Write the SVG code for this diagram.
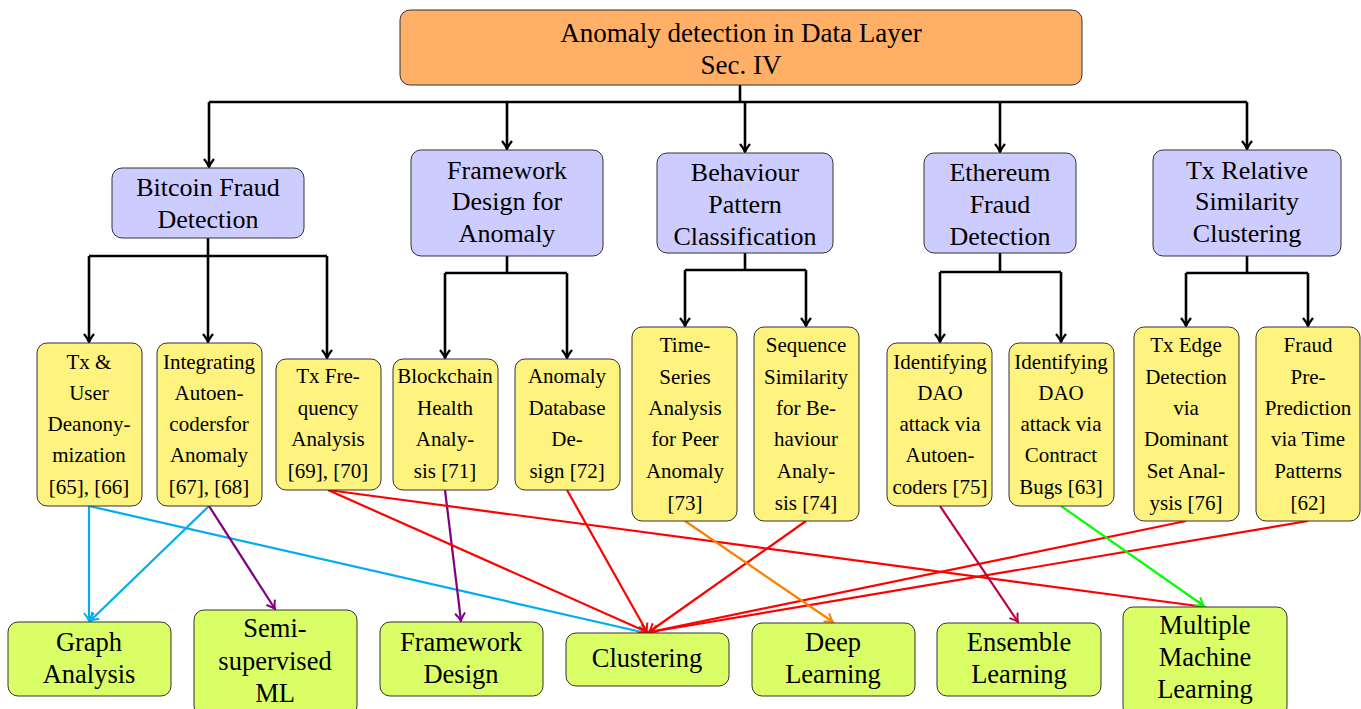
<svg xmlns="http://www.w3.org/2000/svg" width="1361" height="709" viewBox="0 0 1361 709">
<style>
text{font-family:"Liberation Serif","Times New Roman",serif;fill:#000;text-anchor:middle}
.top rect{fill:#FFB066;stroke:#333;stroke-width:1}
.l2 rect{fill:#CCCCFF;stroke:#333;stroke-width:1}
.l3 rect{fill:#FFF380;stroke:#333;stroke-width:1}
.l4 rect{fill:#DAFF66;stroke:#333;stroke-width:1}
.top text{font-size:27px}
.l2 text{font-size:26px}
.l3 text{font-size:21px}
.l4 text{font-size:26.5px}
.k{fill:none;stroke:#000;stroke-width:2.6}
.c{fill:none;stroke-width:2.2}
</style>
<defs>
<marker id="ak" markerUnits="userSpaceOnUse" markerWidth="20" markerHeight="20" viewBox="-10 -10 20 20" refX="0" refY="0" orient="auto"><path d="M-8,-5 Q-3,-1 0,0 Q-3,1 -8,5" fill="none" stroke="#000" stroke-width="2.2"/></marker>
<marker id="ac" markerUnits="userSpaceOnUse" markerWidth="20" markerHeight="20" viewBox="-10 -10 20 20" refX="0" refY="0" orient="auto"><path d="M-8,-5 Q-3,-1 0,0 Q-3,1 -8,5" fill="none" stroke="#00AEEF" stroke-width="2"/></marker>
<marker id="ap" markerUnits="userSpaceOnUse" markerWidth="20" markerHeight="20" viewBox="-10 -10 20 20" refX="0" refY="0" orient="auto"><path d="M-8,-5 Q-3,-1 0,0 Q-3,1 -8,5" fill="none" stroke="#800080" stroke-width="2"/></marker>
<marker id="ar" markerUnits="userSpaceOnUse" markerWidth="20" markerHeight="20" viewBox="-10 -10 20 20" refX="0" refY="0" orient="auto"><path d="M-8,-5 Q-3,-1 0,0 Q-3,1 -8,5" fill="none" stroke="#FF0000" stroke-width="2"/></marker>
<marker id="ao" markerUnits="userSpaceOnUse" markerWidth="20" markerHeight="20" viewBox="-10 -10 20 20" refX="0" refY="0" orient="auto"><path d="M-8,-5 Q-3,-1 0,0 Q-3,1 -8,5" fill="none" stroke="#FF8000" stroke-width="2"/></marker>
<marker id="am" markerUnits="userSpaceOnUse" markerWidth="20" markerHeight="20" viewBox="-10 -10 20 20" refX="0" refY="0" orient="auto"><path d="M-8,-5 Q-3,-1 0,0 Q-3,1 -8,5" fill="none" stroke="#BF0040" stroke-width="2"/></marker>
<marker id="ag" markerUnits="userSpaceOnUse" markerWidth="20" markerHeight="20" viewBox="-10 -10 20 20" refX="0" refY="0" orient="auto"><path d="M-8,-5 Q-3,-1 0,0 Q-3,1 -8,5" fill="none" stroke="#00FF00" stroke-width="2"/></marker>
</defs>
<rect width="1361" height="709" fill="#fff"/>

<g id="connectors">
<path class="k" d="M740,85 V102 M209,102 H1247"/>
<path class="k" d="M209,102 V167" marker-end="url(#ak)"/>
<path class="k" d="M507,102 V149" marker-end="url(#ak)"/>
<path class="k" d="M745,102 V152" marker-end="url(#ak)"/>
<path class="k" d="M1000,102 V152" marker-end="url(#ak)"/>
<path class="k" d="M1247,102 V149" marker-end="url(#ak)"/>

<path class="k" d="M208,238 V256 M89,256 H327"/>
<path class="k" d="M89,256 V342" marker-end="url(#ak)"/>
<path class="k" d="M208,256 V342" marker-end="url(#ak)"/>
<path class="k" d="M327,256 V358" marker-end="url(#ak)"/>

<path class="k" d="M507,256 V273 M445,273 H567"/>
<path class="k" d="M445,273 V358" marker-end="url(#ak)"/>
<path class="k" d="M567,273 V358" marker-end="url(#ak)"/>

<path class="k" d="M745,253 V270 M685,270 H806"/>
<path class="k" d="M685,270 V326" marker-end="url(#ak)"/>
<path class="k" d="M806,270 V326" marker-end="url(#ak)"/>

<path class="k" d="M1000,253 V272 M940,272 H1061"/>
<path class="k" d="M940,272 V342" marker-end="url(#ak)"/>
<path class="k" d="M1061,272 V342" marker-end="url(#ak)"/>

<path class="k" d="M1247,256 V273 M1186,273 H1308"/>
<path class="k" d="M1186,273 V326" marker-end="url(#ak)"/>
<path class="k" d="M1308,273 V326" marker-end="url(#ak)"/>

<path class="c" stroke="#00AEEF" d="M89,506 V621" marker-end="url(#ac)"/>
<path class="c" stroke="#00AEEF" d="M89,506 L646,633" marker-end="url(#ac)"/>
<path class="c" stroke="#00AEEF" d="M209,506 L90,621" marker-end="url(#ac)"/>
<path class="c" stroke="#800080" d="M209,506 L275,609" marker-end="url(#ap)"/>
<path class="c" stroke="#800080" d="M445,490 L461,621" marker-end="url(#ap)"/>
<path class="c" stroke="#FF0000" d="M328,490 L647,632" marker-end="url(#ar)"/>
<path class="c" stroke="#FF0000" d="M328,490 L1205,607" marker-end="url(#ar)"/>
<path class="c" stroke="#FF0000" d="M567,490 L647,632" marker-end="url(#ar)"/>
<path class="c" stroke="#FF0000" d="M806,521 L649,632" marker-end="url(#ar)"/>
<path class="c" stroke="#FF0000" d="M1186,521 L650,632" marker-end="url(#ar)"/>
<path class="c" stroke="#FF0000" d="M1308,521 L650,632" marker-end="url(#ar)"/>
<path class="c" stroke="#FF8000" d="M685,521 L833,622" marker-end="url(#ao)"/>
<path class="c" stroke="#BF0040" d="M940,506 L1018,622" marker-end="url(#am)"/>
<path class="c" stroke="#00FF00" d="M1061,506 L1204,606" marker-end="url(#ag)"/>
</g>

<g id="root" class="top"><rect x="400" y="10" width="682" height="75" rx="10"/><text x="741" y="42">Anomaly detection in Data Layer</text><text x="741" y="74">Sec. IV</text></g>

<g id="bitcoin" class="l2"><rect x="112" y="168" width="192" height="70" rx="10"/><text x="208" y="196">Bitcoin Fraud</text><text x="208" y="228">Detection</text></g>
<g id="framework" class="l2"><rect x="411" y="150" width="192" height="106" rx="10"/><text x="507" y="179">Framework</text><text x="507" y="210">Design for</text><text x="507" y="242">Anomaly</text></g>
<g id="behaviour" class="l2"><rect x="657" y="153" width="176" height="100" rx="10"/><text x="745" y="181">Behaviour</text><text x="745" y="213">Pattern</text><text x="745" y="245">Classification</text></g>
<g id="ethereum" class="l2"><rect x="924" y="153" width="152" height="100" rx="10"/><text x="1000" y="181">Ethereum</text><text x="1000" y="213">Fraud</text><text x="1000" y="245">Detection</text></g>
<g id="txrel" class="l2"><rect x="1153" y="150" width="188" height="106" rx="10"/><text x="1247" y="179">Tx Relative</text><text x="1247" y="210">Similarity</text><text x="1247" y="242">Clustering</text></g>

<g id="n1" class="l3"><rect x="37" y="343" width="105" height="163" rx="10"/><text x="89" y="369">Tx &amp;</text><text x="89" y="400">User</text><text x="89" y="431">Deanony-</text><text x="89" y="462">mization</text><text x="89" y="494">[65], [66]</text></g>
<g id="n2" class="l3"><rect x="157" y="343" width="105" height="163" rx="10"/><text x="209" y="369">Integrating</text><text x="209" y="400">Autoen-</text><text x="209" y="431">codersfor</text><text x="209" y="462">Anomaly</text><text x="209" y="494">[67], [68]</text></g>
<g id="n3" class="l3"><rect x="276" y="359" width="105" height="131" rx="10"/><text x="328" y="383">Tx Fre-</text><text x="328" y="415">quency</text><text x="328" y="446">Analysis</text><text x="328" y="478">[69], [70]</text></g>
<g id="n4" class="l3"><rect x="393" y="359" width="105" height="131" rx="10"/><text x="445" y="383">Blockchain</text><text x="445" y="415">Health</text><text x="445" y="446">Analy-</text><text x="445" y="478">sis [71]</text></g>
<g id="n5" class="l3"><rect x="515" y="359" width="105" height="131" rx="10"/><text x="567" y="383">Anomaly</text><text x="567" y="415">Database</text><text x="567" y="446">De-</text><text x="567" y="478">sign [72]</text></g>
<g id="n6" class="l3"><rect x="632" y="327" width="105" height="194" rx="10"/><text x="685" y="352">Time-</text><text x="685" y="384">Series</text><text x="685" y="415">Analysis</text><text x="685" y="446">for Peer</text><text x="685" y="478">Anomaly</text><text x="685" y="510">[73]</text></g>
<g id="n7" class="l3"><rect x="754" y="327" width="105" height="194" rx="10"/><text x="806" y="352">Sequence</text><text x="806" y="384">Similarity</text><text x="806" y="415">for Be-</text><text x="806" y="446">haviour</text><text x="806" y="478">Analy-</text><text x="806" y="510">sis [74]</text></g>
<g id="n8" class="l3"><rect x="887" y="343" width="105" height="163" rx="10"/><text x="940" y="369">Identifying</text><text x="940" y="400">DAO</text><text x="940" y="431">attack via</text><text x="940" y="462">Autoen-</text><text x="940" y="494">coders [75]</text></g>
<g id="n9" class="l3"><rect x="1009" y="343" width="105" height="163" rx="10"/><text x="1061" y="369">Identifying</text><text x="1061" y="400">DAO</text><text x="1061" y="431">attack via</text><text x="1061" y="462">Contract</text><text x="1061" y="494">Bugs [63]</text></g>
<g id="n10" class="l3"><rect x="1134" y="327" width="105" height="194" rx="10"/><text x="1186" y="352">Tx Edge</text><text x="1186" y="384">Detection</text><text x="1186" y="415">via</text><text x="1186" y="446">Dominant</text><text x="1186" y="478">Set Anal-</text><text x="1186" y="510">ysis [76]</text></g>
<g id="n11" class="l3"><rect x="1256" y="327" width="104" height="194" rx="10"/><text x="1308" y="352">Fraud</text><text x="1308" y="384">Pre-</text><text x="1308" y="415">Prediction</text><text x="1308" y="446">via Time</text><text x="1308" y="478">Patterns</text><text x="1308" y="510">[62]</text></g>

<g id="graph" class="l4"><rect x="8" y="622" width="163" height="74" rx="10"/><text x="89" y="651">Graph</text><text x="89" y="683">Analysis</text></g>
<g id="semi" class="l4"><rect x="194" y="610" width="163" height="106" rx="10"/><text x="275" y="637">Semi-</text><text x="275" y="670">supervised</text><text x="275" y="702">ML</text></g>
<g id="fwdesign" class="l4"><rect x="380" y="622" width="163" height="74" rx="10"/><text x="461" y="651">Framework</text><text x="461" y="683">Design</text></g>
<g id="clustering" class="l4"><rect x="566" y="633" width="163" height="53" rx="10"/><text x="647" y="667">Clustering</text></g>
<g id="deep" class="l4"><rect x="752" y="623" width="163" height="73" rx="10"/><text x="833" y="651">Deep</text><text x="833" y="683">Learning</text></g>
<g id="ensemble" class="l4"><rect x="937" y="623" width="164" height="73" rx="10"/><text x="1019" y="651">Ensemble</text><text x="1019" y="683">Learning</text></g>
<g id="multiple" class="l4"><rect x="1123" y="607" width="164" height="110" rx="10"/><text x="1205" y="634">Multiple</text><text x="1205" y="666">Machine</text><text x="1205" y="698">Learning</text></g>
</svg>
